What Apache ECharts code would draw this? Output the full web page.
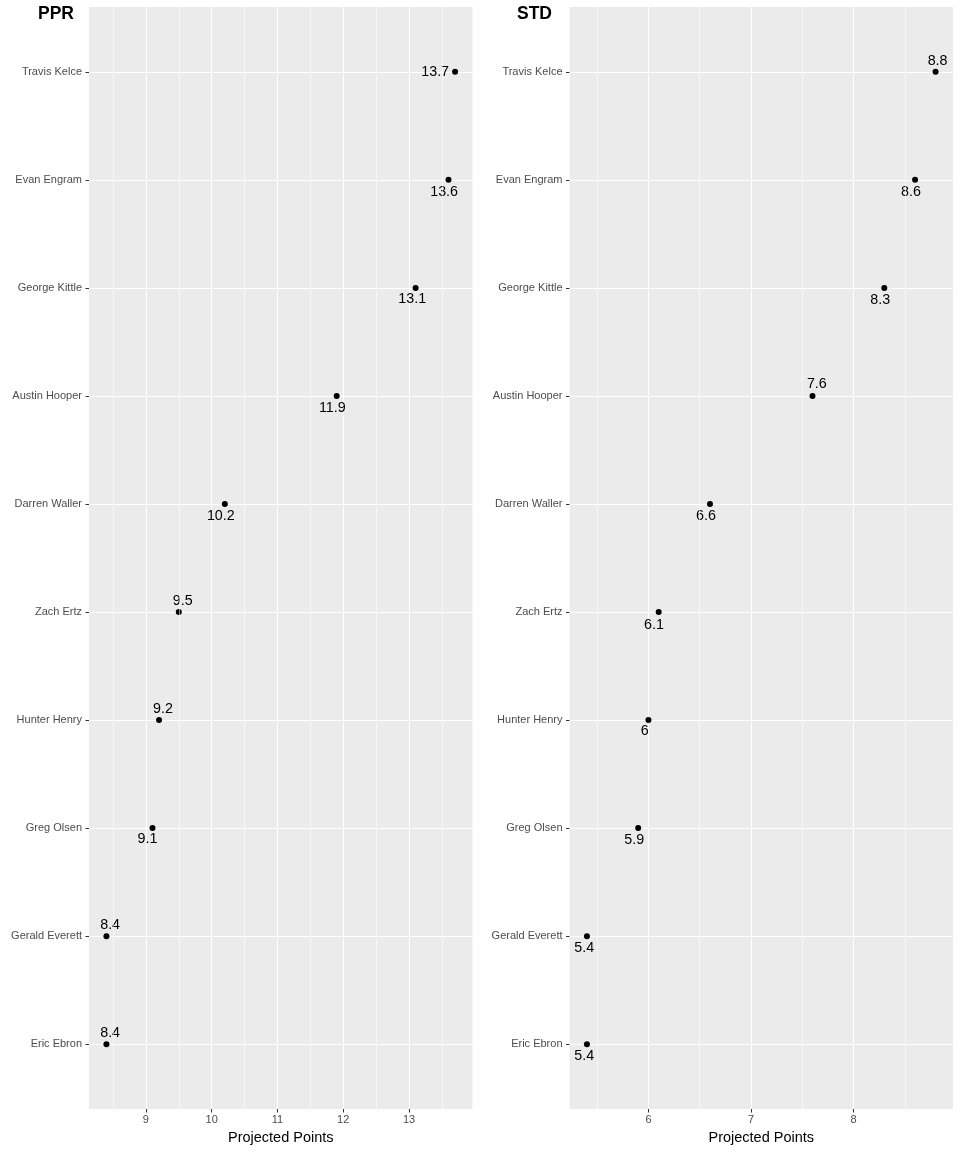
<!DOCTYPE html>
<html>
<head>
<meta charset="utf-8">
<script src="https://cdn.jsdelivr.net/npm/echarts@6/dist/echarts.min.js"></script>
<style>
html,body{margin:0;padding:0;background:#fff;}
#chart{width:960px;height:1152px;}
</style>
</head>
<body>
<div id="chart"></div>
<script>
// ---- data ----
const players = ['Travis Kelce','Evan Engram','George Kittle','Austin Hooper','Darren Waller','Zach Ertz','Hunter Henry','Greg Olsen','Gerald Everett','Eric Ebron'];
const pprPoints = [13.7, 13.6, 13.1, 11.9, 10.2, 9.5, 9.2, 9.1, 8.4, 8.4];
const stdPoints = [8.8, 8.6, 8.3, 7.6, 6.6, 6.1, 6, 5.9, 5.4, 5.4];
const pprTicks = [9, 10, 11, 12, 13];
const stdTicks = [6, 7, 8];
const pprMinor = [8.5, 9.5, 10.5, 11.5, 12.5, 13.5];
const stdMinor = [5.5, 6.5, 7.5, 8.5];
const panelTitles = ['PPR', 'STD'];
const xTitle = 'Projected Points';

// ---- label placement (styling, repel-like offsets) ----
const pprLabelOffset = ['left', [-4.4, 12.5], [-3.4, 11.5], [-4.3, 12.5], [-4, 12], [4, -11.3], [4, -11.3], [-5, 11.3], [3.7, -11.3], [3.7, -11]];
const stdLabelOffset = [[2, -11], [-4, 11.7], [-4, 12.5], [4.3, -11.7], [-4, 12.5], [-4.7, 13], [-3.7, 11], [-4, 12.3], [-2.7, 11.7], [-2.7, 12.3]];

const FONT = '"Liberation Sans", Arial, Helvetica, sans-serif';
const catIdx = players.map((_, i) => i);

function xRange(vals) {
  const lo = Math.min(...vals), hi = Math.max(...vals);
  const pad = (hi - lo) * 0.05;
  return [lo - pad, hi + pad];
}

const panels = [
  {vals: pprPoints, ticks: pprTicks, minor: pprMinor, offs: pprLabelOffset, left: 89},
  {vals: stdPoints, ticks: stdTicks, minor: stdMinor, offs: stdLabelOffset, left: 569.5}
];

const grids = [], xAxes = [], yAxes = [], series = [], titles = [];
panels.forEach((p, k) => {
  const r = xRange(p.vals);
  grids.push({left: p.left, top: 7, width: 383.5, height: 1102, show: true, backgroundColor: '#EBEBEB', borderWidth: 0});
  xAxes.push({
    type: 'value', gridIndex: k, min: r[0], max: r[1], position: 'bottom',
    name: xTitle, nameLocation: 'middle', nameGap: 21,
    nameTextStyle: {fontFamily: FONT, fontSize: 14.5, color: '#000'},
    axisLine: {show: false, onZero: false},
    axisTick: {show: true, customValues: p.ticks, length: 3.5, lineStyle: {color: '#333', width: 1}},
    axisLabel: {show: true, customValues: p.ticks, margin: 5, fontFamily: FONT, fontSize: 11, color: '#4D4D4D'},
    splitLine: {show: true, lineStyle: {color: '#fff', width: 1.1}},
    minorSplitLine: {show: false}
  });
  yAxes.push({
    type: 'value', gridIndex: k, min: -0.6, max: players.length - 1 + 0.6, inverse: true, position: 'left',
    axisLine: {show: false, onZero: false},
    axisTick: {show: true, customValues: catIdx, length: 3.5, lineStyle: {color: '#333', width: 1}},
    axisLabel: {show: true, customValues: catIdx, margin: 7, fontFamily: FONT, fontSize: 11, color: '#4D4D4D',
      formatter: v => players[Math.round(v)] || ''},
    splitLine: {show: true, lineStyle: {color: '#fff', width: 1.1}}
  });
  // minor vertical gridlines
  series.push({
    type: 'line', xAxisIndex: k, yAxisIndex: k, data: [], z: 1, silent: true,
    markLine: {
      silent: true, symbol: ['none', 'none'], animation: false,
      label: {show: false},
      lineStyle: {color: '#fff', width: 0.55, type: 'solid'},
      data: p.minor.map(v => ({xAxis: v}))
    }
  });
  // points with labels
  series.push({
    type: 'scatter', xAxisIndex: k, yAxisIndex: k, z: 3,
    symbol: 'circle', symbolSize: 6,
    itemStyle: {color: '#000', opacity: 1},
    data: p.vals.map((v, i) => {
      const o = p.offs[i];
      const label = (o === 'left')
        ? {show: true, position: 'left', distance: 3, color: '#000'}
        : {show: true, position: 'inside', offset: o, color: '#000'};
      return {value: [v, i], label: label};
    }),
    label: {show: true, fontFamily: FONT, fontSize: 14.3, color: '#000', textBorderWidth: 0, formatter: d => String(d.value[0])}
  });
  titles.push({text: panelTitles[k], left: k === 0 ? 38 : 517, top: 5, padding: 0,
    textStyle: {fontFamily: FONT, fontSize: 17.5, fontWeight: 'bold', color: '#000'}});
});

const chart = echarts.init(document.getElementById('chart'), null, {renderer: 'canvas'});
chart.setOption({
  animation: false,
  backgroundColor: '#fff',
  title: titles,
  grid: grids,
  xAxis: xAxes,
  yAxis: yAxes,
  series: series
});
</script>
</body>
</html>
